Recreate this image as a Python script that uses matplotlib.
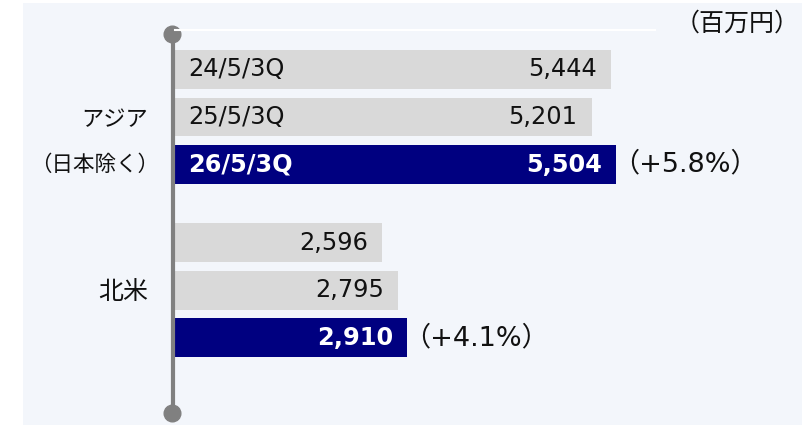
import matplotlib
matplotlib.use("Agg")
import matplotlib.pyplot as plt
from matplotlib.patches import Rectangle
from matplotlib.lines import Line2D

plt.rcParams['font.family'] = ['DejaVu Sans', 'Noto Sans CJK JP']

# Data
periods = ["24/5/3Q", "25/5/3Q", "26/5/3Q"]
region_names = ["アジア", "北米"]
asia_sales = [5444, 5201, 5504]
na_sales = [2596, 2795, 2910]
growth = ["（+5.8%）", "（+4.1%）"]
unit = "（百万円）"

GRAY = "#d9d9d9"
NAVY = "#000080"
BG = "#f3f6fb"
TXT = "#111111"
FS = 17.3

fig = plt.figure(figsize=(8.02, 4.25), dpi=100)
fig.patch.set_facecolor("white")

# light panel behind the chart
fig.add_artist(Rectangle((23 / 802, 0), 1 - 23 / 802, 422 / 425,
                         transform=fig.transFigure, facecolor=BG,
                         edgecolor="none", zorder=0))

ax = fig.add_axes([173 / 802, 12 / 425, 482 / 802, 379 / 425])
ax.set_facecolor("none")

group_pos = [[0, 1, 2], [3.65, 4.65, 5.65]]
values = [asia_sales, na_sales]
colors = [GRAY, GRAY, NAVY]

for g, (pos, vals) in enumerate(zip(group_pos, values)):
    ax.barh(pos, vals, height=0.82, color=colors, zorder=2)
    for i, (p, v) in enumerate(zip(pos, vals)):
        last = i == len(vals) - 1
        tcol = "white" if last else TXT
        weight = "bold" if last else "normal"
        ax.annotate(f"{v:,}", (v, p), xytext=(-10, 0), textcoords="offset points",
                    ha="right", va="center", fontsize=FS, color=tcol,
                    fontweight=weight, zorder=3)
        if g == 0:
            ax.annotate(periods[i], (0, p), xytext=(11, 0), textcoords="offset points",
                        ha="left", va="center", fontsize=FS, color=tcol,
                        fontweight=weight, zorder=3)
    ax.annotate(growth[g], (vals[-1], pos[-1]), xytext=(-3, 0), textcoords="offset points",
                ha="left", va="center", fontsize=19.5, color=TXT)

# region labels
ax.annotate(region_names[0], (0, 1), xytext=(-18, -2), textcoords="offset points",
            ha="right", va="center", fontsize=16, color=TXT)
ax.annotate("（日本除く）", (0, 2), xytext=(-10, 0), textcoords="offset points",
            ha="right", va="center", fontsize=15.5, color=TXT)
ax.annotate(region_names[1], (0, 4.65), xytext=(-18, -1), textcoords="offset points",
            ha="right", va="center", fontsize=18, color=TXT)

ax.set_xlim(0, 5990)
ax.set_ylim(7.23, -0.747)
for s in ax.spines.values():
    s.set_visible(False)
ax.set_xticks([])
ax.set_yticks([])

# vertical axis line with round ends
ax.plot([0, 0], [-0.747, 7.23], color="#808080", lw=3, clip_on=False,
        transform=ax.get_yaxis_transform(), zorder=4)
ax.plot([-1 / 482, -1 / 482], [-0.747, 7.23], ls="none", marker="o", ms=12,
        color="#808080", clip_on=False, transform=ax.get_yaxis_transform(), zorder=4)

# thin white line at top
fig.add_artist(Line2D([175 / 802, 655 / 802], [395 / 425, 395 / 425],
                      transform=fig.transFigure, color="white", lw=1.5, zorder=1))

fig.text(800 / 802, 401 / 425, unit, ha="right", va="center", fontsize=18,
         color=TXT)

fig.savefig("out.png", dpi=100, facecolor=fig.get_facecolor())
